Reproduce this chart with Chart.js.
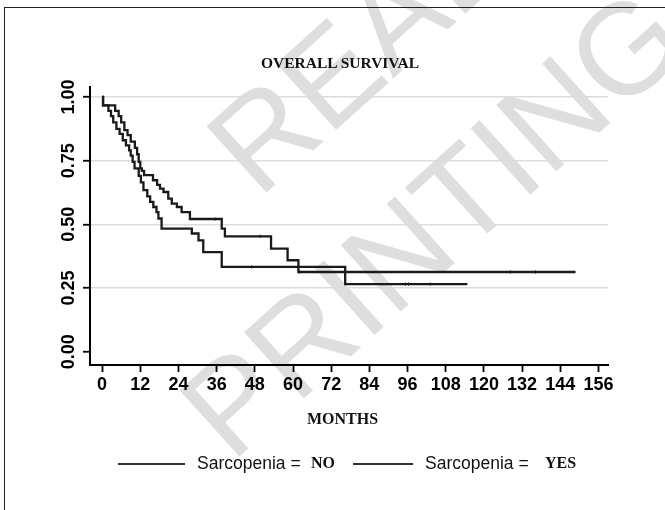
<!DOCTYPE html>
<html><head><meta charset="utf-8">
<script src="https://cdn.jsdelivr.net/npm/chart.js@4"></script>
<style>
html,body{margin:0;padding:0;background:#fff;}
#wrap{position:relative;width:665px;height:510px;overflow:hidden;background:#fff;}
#frame{position:absolute;left:4px;top:7px;width:700px;height:600px;border-left:1.5px solid #222;border-top:1.5px solid #222;}
.wm{position:absolute;font-family:'Liberation Sans',sans-serif;font-size:130px;line-height:1;color:#dedede;transform-origin:0 0;transform:rotate(-42deg);white-space:nowrap;}
#chart{position:absolute;left:0;top:0;}
.txt{position:absolute;white-space:nowrap;color:#111;}
.serif{font-family:'Liberation Serif',serif;font-weight:bold;}
.sans{font-family:'Liberation Sans',sans-serif;}
.lg{position:absolute;height:1.5px;background:#333;}
</style>
</head><body>
<div id="wrap">
  <div class="wm" style="left:185px;top:118px;">READY</div>
  <div class="wm" style="left:158px;top:382px;">PRINTING</div>
  <div id="frame"></div>
  <canvas id="chart" width="665" height="510"></canvas>
  <div class="txt serif" style="left:261px;top:54px;font-size:15.5px;">OVERALL SURVIVAL</div>
  <div class="txt serif" style="left:307px;top:410px;font-size:16px;">MONTHS</div>
  <div class="lg" style="left:118px;top:463px;width:67px;"></div>
  <div class="txt sans" style="left:197px;top:453px;font-size:17.5px;">Sarcopenia =</div>
  <div class="txt serif" style="left:311px;top:454px;font-size:16px;">NO</div>
  <div class="lg" style="left:353px;top:463px;width:60px;"></div>
  <div class="txt sans" style="left:425px;top:453px;font-size:17.5px;">Sarcopenia =</div>
  <div class="txt serif" style="left:545px;top:454px;font-size:16px;">YES</div>
</div>
<script>
// Kaplan-Meier step data (months, survival)
const noTimes  = [0, 0.3, 4.1, 5.2, 6.0, 7.0, 8.0, 9.0, 10.3, 11.0, 11.5, 12.0, 12.5, 13.2, 16.0, 17.3, 18.2, 19.3, 20.8, 21.9, 23.5, 25.0, 27.6, 37.6, 38.6, 53.1, 58.3, 61.7, 148.8];
const noSurv   = [1.0, 0.967, 0.945, 0.925, 0.90, 0.87, 0.85, 0.825, 0.80, 0.775, 0.745, 0.72, 0.71, 0.693, 0.673, 0.655, 0.64, 0.627, 0.601, 0.581, 0.568, 0.548, 0.521, 0.483, 0.453, 0.405, 0.359, 0.313, 0.313];
const yesTimes = [0, 0.3, 2.0, 2.8, 3.5, 4.5, 5.5, 6.5, 7.5, 8.5, 9.0, 9.6, 10.2, 11.5, 12.2, 13.0, 14.2, 15.1, 16.1, 17.1, 17.7, 18.7, 28.2, 30.3, 31.8, 37.6, 76.4, 114.8];
const yesSurv  = [1.0, 0.967, 0.945, 0.925, 0.90, 0.875, 0.855, 0.83, 0.81, 0.79, 0.77, 0.745, 0.72, 0.69, 0.665, 0.634, 0.61, 0.588, 0.568, 0.548, 0.523, 0.483, 0.464, 0.437, 0.391, 0.333, 0.265, 0.265];
const noCensT  = [35.5, 49.7, 62.0, 128.3, 136.2];
const noCensS  = [0.521, 0.453, 0.313, 0.313, 0.313];
const yesCensT = [47.0, 95.3, 96.3, 103.1];
const yesCensS = [0.333, 0.265, 0.265, 0.265];
const xTicks = [0, 12, 24, 36, 48, 60, 72, 84, 96, 108, 120, 132, 144, 156];
const yTicks = [0, 0.25, 0.5, 0.75, 1.0];

const pts = (t, s) => t.map((v, i) => ({x: v, y: s[i]}));
const lineCol = '#1a1a1a';
const tickFont = {family: 'Liberation Sans', size: 18, weight: 'bold'};

new Chart(document.getElementById('chart'), {
  type: 'line',
  data: {
    datasets: [
      {label: 'Sarcopenia = NO', data: pts(noTimes, noSurv), stepped: 'before', borderColor: lineCol, borderWidth: 2.3, pointRadius: 0, fill: false},
      {label: 'Sarcopenia = YES', data: pts(yesTimes, yesSurv), stepped: 'before', borderColor: lineCol, borderWidth: 2.3, pointRadius: 0, fill: false},
      {type: 'scatter', data: pts(noCensT, noCensS), pointStyle: 'line', rotation: 90, radius: 1.8, borderColor: '#555', borderWidth: 1, showLine: false},
      {type: 'scatter', data: pts(yesCensT, yesCensS), pointStyle: 'line', rotation: 90, radius: 1.8, borderColor: '#555', borderWidth: 1, showLine: false}
    ]
  },
  options: {
    responsive: false,
    animation: false,
    layout: {padding: {top: 87, right: 57, bottom: 0, left: 0}},
    plugins: {legend: {display: false}, title: {display: false}, tooltip: {enabled: false}},
    scales: {
      x: {
        type: 'linear', min: -3.8, max: 159,
        afterBuildTicks: s => { s.ticks = xTicks.map(v => ({value: v})); },
        afterFit: s => { s.height = 145; },
        grid: {drawOnChartArea: false, drawTicks: true, tickLength: 7, tickColor: '#000', tickWidth: 1.8},
        border: {display: true, color: '#000', width: 2},
        ticks: {color: '#000', font: tickFont, padding: 2, maxRotation: 0, minRotation: 0, autoSkip: false}
      },
      y: {
        type: 'linear', min: -0.052, max: 1.039,
        afterBuildTicks: s => { s.ticks = yTicks.map(v => ({value: v})); },
        afterFit: s => { s.width = 90; },
        grid: {color: c => (c.tick && c.tick.value === 0) ? 'rgba(0,0,0,0)' : '#dcdcdc', lineWidth: 1.5, tickLength: 7, tickColor: '#000', tickWidth: 1.8},
        border: {display: true, color: '#000', width: 2},
        ticks: {color: '#000', font: tickFont, padding: -4, minRotation: 90, maxRotation: 90, crossAlign: 'center', callback: v => Number(v).toFixed(2)}
      }
    }
  }
});
</script>
</body></html>
